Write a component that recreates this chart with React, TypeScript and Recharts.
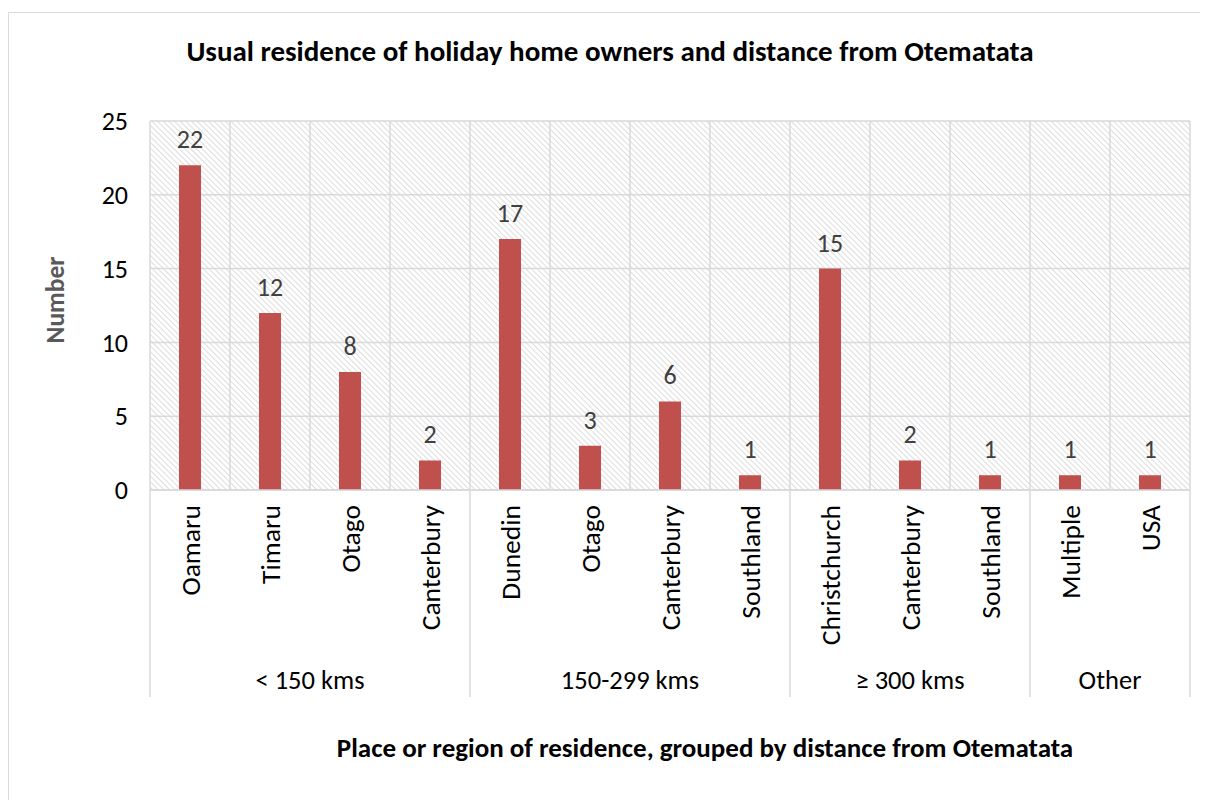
import { Bar, BarChart, CartesianGrid, LabelList, XAxis, YAxis } from "recharts";

const places = [
  "Oamaru", "Timaru", "Otago", "Canterbury",
  "Dunedin", "Otago", "Canterbury", "Southland",
  "Christchurch", "Canterbury", "Southland",
  "Multiple", "USA",
];
const counts = [22, 12, 8, 2, 17, 3, 6, 1, 15, 2, 1, 1, 1];
const groups = ["< 150 kms", "150-299 kms", "≥ 300 kms", "Other"];
const groupSizes = [4, 4, 3, 2];
const yTicks = [0, 5, 10, 15, 20, 25];

const data = places.map((p, i) => ({ id: String(i), place: p, count: counts[i] }));

// index of first category in each group
const groupStart: number[] = [];
groupSizes.reduce((acc, n) => {
  groupStart.push(acc);
  return acc + n;
}, 0);

const FONT = "Carlito, Lato, 'Liberation Sans', sans-serif";
const W = 1199;
const H = 787;
const margin = { top: 108, right: 18, left: 0, bottom: 0 };
const Y_W = 141;
const BAND = (W - margin.left - margin.right - Y_W) / places.length;

function CategoryTick(props: any) {
  const { x, y, payload } = props;
  const i = Number(payload.value);
  const g = groupStart.indexOf(i);
  const isLast = i === places.length - 1;
  return (
    <g>
      <text
        transform={`translate(${x + 10},${y + 15}) rotate(-90)`}
        textAnchor="end"
        fontSize={27.5}
        fill="#000"
        fontFamily={FONT}
      >
        {places[i]}
      </text>
      {g >= 0 && (
        <>
          <line x1={x - BAND / 2} x2={x - BAND / 2} y1={y} y2={y + 207} stroke="#d9d9d9" strokeWidth={1.5} />
          <text
            x={x - BAND / 2 + (groupSizes[g] * BAND) / 2}
            y={y + 199}
            textAnchor="middle"
            fontSize={26.5}
            fill="#000"
            fontFamily={FONT}
          >
            {groups[g]}
          </text>
        </>
      )}
      {isLast && (
        <line x1={x + BAND / 2} x2={x + BAND / 2} y1={y} y2={y + 207} stroke="#d9d9d9" strokeWidth={1.5} />
      )}
    </g>
  );
}

export default function App() {
  return (
    <div
      style={{
        position: "relative",
        width: 1200,
        height: 788,
        marginTop: 4,
        borderTop: "1px solid #d9d9d9",
        borderLeft: "1px solid #d9d9d9",
        boxSizing: "border-box",
        fontFamily: FONT,
      }}
    >
      <svg width={0} height={0} style={{ position: "absolute" }}>
        <defs>
          <pattern id="hatch" width={4} height={4} patternUnits="userSpaceOnUse" patternTransform="rotate(-45)">
            <rect width={4} height={4} fill="#fff" />
            <line x1={0} y1={0} x2={0} y2={4} stroke="#dadada" strokeWidth={1.8} />
          </pattern>
        </defs>
      </svg>
      <div style={{ position: "absolute", left: 0, top: 0 }}>
        <BarChart width={W} height={H} data={data} margin={margin}>
          <CartesianGrid
            fill="url(#hatch)"
            stroke="#d9d9d9"
            strokeWidth={1.5}
            verticalCoordinatesGenerator={({ offset }: any) =>
              places.map((_, i) => offset.left + i * BAND).concat(offset.left + offset.width)
            }
          />
          <XAxis
            dataKey="id"
            interval={0}
            height={310}
            tickLine={false}
            tickSize={0}
            tickMargin={0}
            axisLine={{ stroke: "#d9d9d9", strokeWidth: 1.5 }}
            tick={<CategoryTick />}
          />
          <YAxis
            width={Y_W}
            domain={[0, 25]}
            ticks={yTicks}
            interval={0}
            axisLine={false}
            tickLine={false}
            tickSize={0}
            tickMargin={22}
            tick={{ fontSize: 26, fill: "#000", fontFamily: FONT }}
          />
          <Bar dataKey="count" fill="#c0504d" barSize={22} isAnimationActive={false}>
            <LabelList dataKey="count" position="top" offset={17} fill="#404040" fontSize={26} fontFamily={FONT} />
          </Bar>
        </BarChart>
      </div>
      <svg
        width={1199}
        height={787}
        style={{ position: "absolute", left: 0, top: 0, pointerEvents: "none" }}
      >
        <text x={601} y={48} textAnchor="middle" fontSize={29} fontWeight="bold" fill="#000" fontFamily={FONT}>
          Usual residence of holiday home owners and distance from Otematata
        </text>
        <text x={696} y={744} textAnchor="middle" fontSize={27} fontWeight="bold" fill="#000" fontFamily={FONT}>
          Place or region of residence, grouped by distance from Otematata
        </text>
        <text
          transform="translate(55,287) rotate(-90)"
          textAnchor="middle"
          fontSize={25.5}
          fontWeight="bold"
          fill="#595959"
          fontFamily={FONT}
        >
          Number
        </text>
      </svg>
    </div>
  );
}
